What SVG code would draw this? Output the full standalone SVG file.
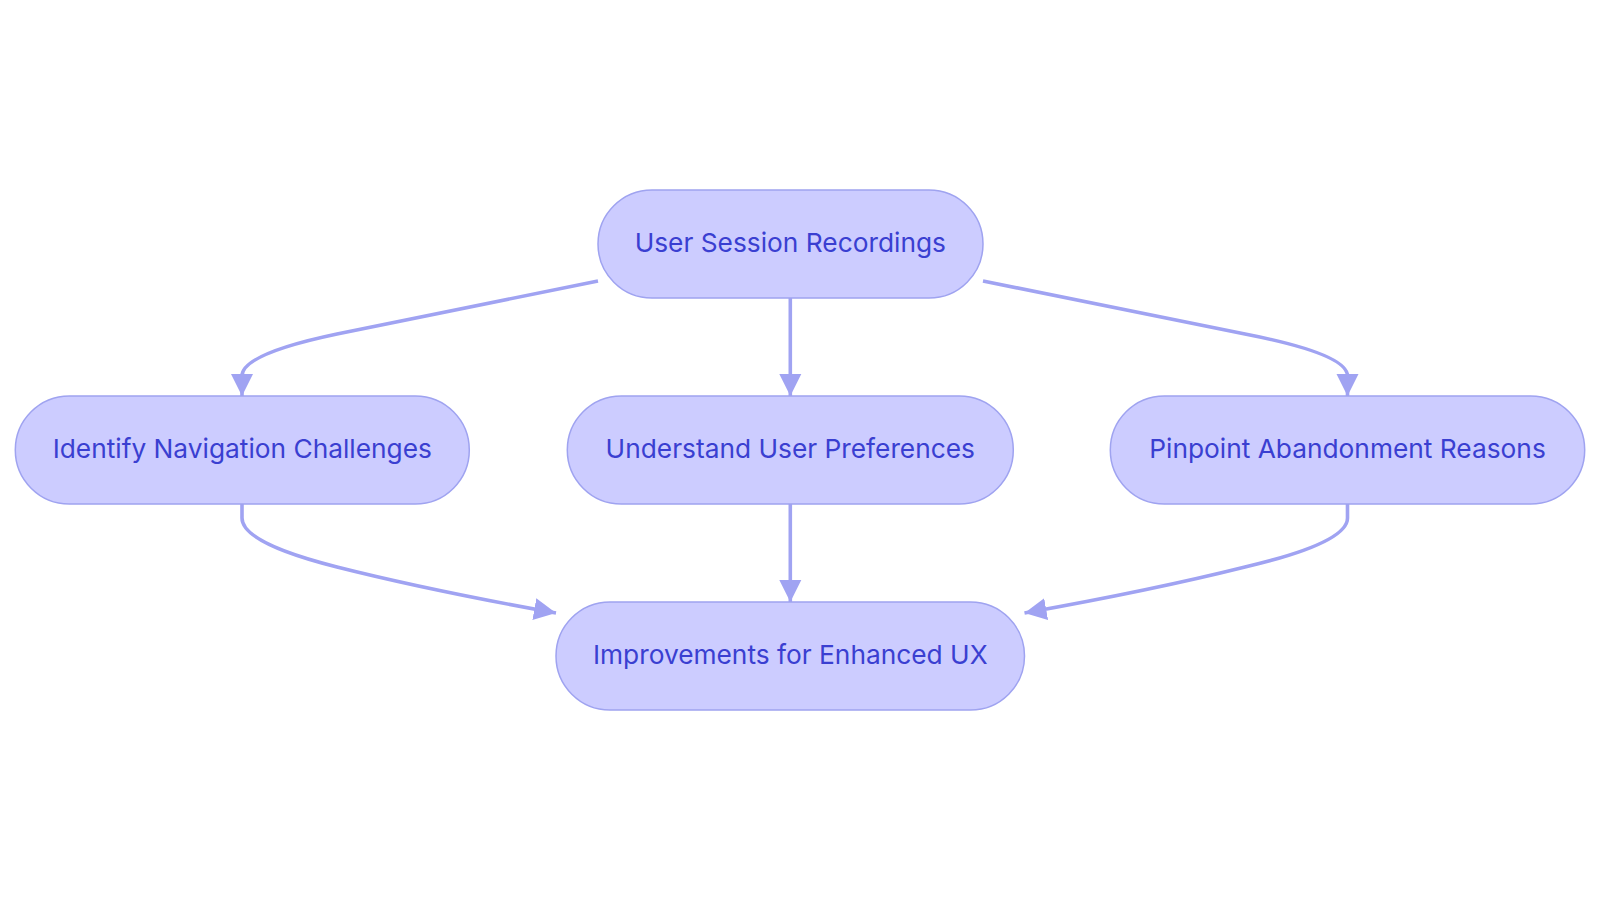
<svg xmlns="http://www.w3.org/2000/svg" width="1600" height="903" viewBox="0 0 1600 903">
<style>
.node rect{fill:#ccccff;stroke:#9fa3f0;stroke-width:1.5}
.node text{font-family:Inter,"Noto Sans",sans-serif;font-size:26.3px;fill:#3a3fd1;text-anchor:middle;dominant-baseline:central}
.edge{fill:none;stroke:#a0a3f2;stroke-width:3.6}
</style>
<defs>
<marker id="arr" viewBox="0 0 10 10" refX="10" refY="5" markerUnits="userSpaceOnUse" markerWidth="22" markerHeight="24" orient="auto">
<path d="M0,0 L10,5 L0,10 z" fill="#a0a3f2"/>
</marker>
</defs>
<rect width="1600" height="903" fill="#ffffff"/>
<g id="connectors">
<path class="edge" d="M598,281 L337,334 Q242,354 242,376 L242,396" marker-end="url(#arr)"/>
<path class="edge" d="M790.3,298 L790.3,396" marker-end="url(#arr)"/>
<path class="edge" d="M983,281 L1245,334 Q1347.5,354 1347.5,376 L1347.5,396" marker-end="url(#arr)"/>
<path class="edge" d="M242,504 L242,518 Q242,543 337,567 Q428,590 556,613" marker-end="url(#arr)"/>
<path class="edge" d="M790.3,504 L790.3,602" marker-end="url(#arr)"/>
<path class="edge" d="M1347.5,504 L1347.5,518 Q1347.5,543 1245,567 Q1153,590 1024.5,613" marker-end="url(#arr)"/>
</g>
<g id="n1" class="node"><rect x="598" y="190" width="385" height="108" rx="54"/><text x="790.3" y="242">User Session Recordings</text></g>
<g id="n2" class="node"><rect x="15.3" y="396" width="454" height="108" rx="54"/><text x="242.3" y="448">Identify Navigation Challenges</text></g>
<g id="n3" class="node"><rect x="567.3" y="396" width="446" height="108" rx="54"/><text x="790.3" y="448">Understand User Preferences</text></g>
<g id="n4" class="node"><rect x="1110.3" y="396" width="474.4" height="108" rx="54"/><text x="1347.5" y="448">Pinpoint Abandonment Reasons</text></g>
<g id="n5" class="node"><rect x="556" y="602" width="468.5" height="108" rx="54"/><text x="790.3" y="654">Improvements for Enhanced UX</text></g>
</svg>
